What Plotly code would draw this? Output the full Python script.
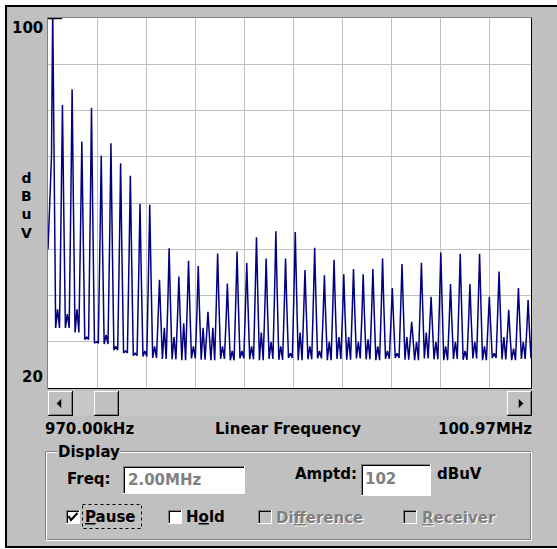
import plotly.graph_objects as go

# ---------------- data ----------------
peak_mhz = [1.93, 3.91, 5.88, 7.86, 9.83, 11.81, 13.79, 15.76, 17.74, 19.71,
            21.69, 23.67, 25.64, 27.62, 29.59, 31.57, 33.55, 35.52, 37.50, 39.47,
            41.45, 43.43, 45.40, 47.38, 49.35, 51.33, 53.31, 55.28, 57.26, 59.23,
            61.21, 63.19, 65.16, 67.14, 69.11, 71.09, 73.07, 75.04, 77.02, 78.99,
            80.97, 82.95, 84.92, 86.90, 88.87, 90.85, 92.83, 94.80, 96.78, 98.75]
peak_dbuv = [102.0, 81.2, 84.6, 73.3, 80.6, 70.2, 72.9, 68.6, 65.9, 59.8,
             59.6, 43.4, 50.2, 44.1, 47.5, 46.4, 36.5, 49.1, 42.6, 49.5,
             47.0, 52.6, 48.0, 53.9, 48.0, 53.7, 45.5, 50.3, 44.4, 47.7,
             44.6, 45.7, 44.6, 45.7, 48.0, 41.6, 46.8, 34.3, 47.1, 39.7,
             49.3, 42.5, 49.0, 42.5, 49.0, 39.7, 45.2, 36.9, 41.6, 39.0]
shoulder_dbuv = [70, 60, 61, 55, 58, 52, 53, 50, 49, 45,
                 45, 36, 39, 36, 38, 37, 32, 39, 35, 39,
                 38, 41, 38, 41.5, 38, 41.5, 37, 39.5, 36, 38,
                 36, 37, 36, 37, 38, 35, 38, 31, 38, 34,
                 39, 35, 39, 35, 39, 34, 37, 32, 35, 33]
floor_dbuv = [33.0, 33.0, 32.0, 30.5, 29.7, 29.5, 28.2, 27.6, 27.0, 26.8,
              26.5, 26.3, 26.2, 26.0, 26.4, 26.1, 26.0, 26.3, 26.0, 26.4,
              26.2, 26.0, 26.3, 26.1, 26.5, 26.0, 26.2, 26.4, 26.0, 26.3,
              26.1, 26.4, 26.2, 26.0, 26.3, 26.5, 26.1, 26.0, 26.4, 26.2,
              26.0, 26.3, 26.1, 26.4, 26.0, 26.5, 26.2, 26.0, 26.3, 26.4]
gap_dbuv = [37, 36, 37, 31, 30, 31.5, 29, 28, 27.5, 28,
            29, 33, 31, 34, 29, 33, 33, 29, 28, 28,
            29, 32, 30, 29, 27.5, 32, 29, 28, 30, 31,
            31, 30, 30.5, 29, 28, 27.5, 31, 30, 32, 30,
            29, 30, 28, 30, 29, 27.5, 31, 28.5, 30, 30]
start_mhz, start_dbuv = 0.97, 50.0
stop_mhz = 99.34

y_ticks = ["100", "20"]
x_labels = ["970.00kHz", "Linear Frequency", "100.97MHz"]

# ---------------- build trace ----------------
xs = [start_mhz, start_mhz + 0.3]
ys = [start_dbuv, 57.0]
for i, f in enumerate(peak_mhz):
    if i > 0:
        xs.append(f - 0.6); ys.append(floor_dbuv[i - 1])
    xs += [f - 0.25, f, f + 0.25, f + 0.6]
    ys += [shoulder_dbuv[i], peak_dbuv[i], shoulder_dbuv[i], floor_dbuv[i]]
    if i < len(peak_mhz) - 1:
        xs.append(f + 0.99); ys.append(gap_dbuv[i])
xs.append(stop_mhz); ys.append(gap_dbuv[-1])

W, H = 557, 549
GRAY = '#c0c0c0'
DARK = '#808080'
FONT = 'DejaVu Sans'


def X(p):
    return p / W


def Y(p):
    return 1 - p / H


fig = go.Figure()
fig.add_trace(go.Scatter(x=xs, y=ys, mode='lines',
                         line=dict(color='#000080', width=1.5),
                         hoverinfo='skip'))

fig.update_layout(
    width=W, height=H, margin=dict(l=0, r=0, t=0, b=0),
    paper_bgcolor=GRAY, plot_bgcolor='white', showlegend=False,
    xaxis=dict(domain=[48 / W, 531 / W], range=[start_mhz, stop_mhz],
               tick0=start_mhz, dtick=10, showticklabels=False, ticks='',
               showgrid=True, gridcolor=GRAY, gridwidth=1, zeroline=False,
               showline=True, linecolor='black', linewidth=1, mirror=True,
               fixedrange=True),
    yaxis=dict(domain=[1 - 388 / H, 1 - 18 / H], range=[20, 100], dtick=10,
               showticklabels=False, ticks='', showgrid=True, gridcolor=GRAY,
               gridwidth=1, zeroline=False, showline=True, linecolor='black',
               linewidth=1, mirror=True, fixedrange=True),
)


def rect(x0, y0, x1, y1, fill, line=None, lw=0, dash=None):
    fig.add_shape(type='rect', xref='paper', yref='paper',
                  x0=X(x0), x1=X(x1), y0=Y(y0), y1=Y(y1),
                  fillcolor=fill,
                  line=dict(color=line or 'rgba(0,0,0,0)', width=lw, dash=dash))


def seg(x0, y0, x1, y1, color, w=1):
    fig.add_shape(type='line', xref='paper', yref='paper',
                  x0=X(x0), x1=X(x1), y0=Y(y0), y1=Y(y1),
                  line=dict(color=color, width=w))


def poly(pts, color):
    path = 'M ' + ' L '.join(f'{X(a)},{Y(b)}' for a, b in pts) + ' Z'
    fig.add_shape(type='path', xref='paper', yref='paper', path=path,
                  fillcolor=color, line=dict(color=color, width=0.5))


def text(s, x, y, size=15, color='black', anchor='left', bold=True, bg=None):
    fig.add_annotation(text=f'<b>{s}</b>' if bold else s, x=X(x), y=Y(y),
                       xref='paper', yref='paper', xanchor=anchor,
                       yanchor='middle', showarrow=False, borderpad=0,
                       bgcolor=bg,
                       font=dict(family=FONT, size=size, color=color))


def raised(x0, y0, x1, y1):
    rect(x0, y0, x1, y1, GRAY)
    seg(x0, y0 + 0.5, x1 - 1, y0 + 0.5, 'white')
    seg(x0 + 0.5, y0, x0 + 0.5, y1 - 1, 'white')
    seg(x0, y1 - 0.5, x1, y1 - 0.5, 'black')
    seg(x1 - 0.5, y0, x1 - 0.5, y1, 'black')
    seg(x0 + 1, y1 - 1.5, x1 - 1, y1 - 1.5, DARK)
    seg(x1 - 1.5, y0 + 1, x1 - 1.5, y1 - 1, DARK)


def sunken(x0, y0, x1, y1, fill='white'):
    rect(x0, y0, x1, y1, fill)
    seg(x0, y0 + 0.5, x1, y0 + 0.5, DARK)
    seg(x0 + 0.5, y0, x0 + 0.5, y1, DARK)
    seg(x0 + 1, y0 + 1.5, x1 - 1, y0 + 1.5, 'black')
    seg(x0 + 1.5, y0 + 1, x0 + 1.5, y1 - 1, 'black')
    seg(x0, y1 - 0.5, x1, y1 - 0.5, 'white')
    seg(x1 - 0.5, y0, x1 - 0.5, y1, 'white')


# window outside (white) and black window frame
rect(0, 0, W, 5, 'white')
rect(0, 0, 5, H, 'white')
rect(0, 548, W, H, 'white')
seg(6, 5, 6, 548, 'black', 2)
seg(5, 6, W, 6, 'black', 2)
seg(5, 547, W, 547, 'black', 2)

# sunken edge around plot
seg(47.5, 17, 47.5, 389, DARK)
seg(47, 17.5, 532, 17.5, DARK)
# marker at top-left of plot
fig.add_shape(type='line', xref='x', yref='y', x0=start_mhz, x1=3.85,
              y0=100, y1=100, line=dict(color='black', width=2.5))

# axis texts
text(y_ticks[0], 44, 28, anchor='right')
text(y_ticks[1], 44, 377, anchor='right')
fig.add_annotation(text='<b>d<br>B<br>u<br>V</b>', x=X(26), y=Y(205),
                   xref='paper', yref='paper', xanchor='center',
                   yanchor='middle', showarrow=False, borderpad=0,
                   font=dict(family=FONT, size=14, color='black'))

# scrollbar
rect(48, 391, 532, 416, '#c8c8c8')
raised(48, 391, 73, 416)
raised(94, 391, 119, 416)
raised(507, 391, 532, 416)
poly([(57, 403.5), (61, 399.5), (61, 407.5)], 'black')
poly([(523, 403.5), (519, 399.5), (519, 407.5)], 'black')

text(x_labels[0], 44, 429)
text(x_labels[1], 288, 429, anchor='center')
text(x_labels[2], 533, 429, anchor='right')

# Display group box
rect(45.5, 451.5, 530.5, 539.5, 'rgba(0,0,0,0)', DARK, 1)
rect(46.5, 452.5, 531.5, 540.5, 'rgba(0,0,0,0)', 'white', 1)
text('Display', 57, 451.5, bg=GRAY)

text('Freq:', 66, 479)
sunken(123, 466, 245, 494)
text('2.00MHz', 127, 480, size=15, color=DARK, bold=True)

text('Amptd:', 294, 474)
sunken(361, 464, 431, 496)
text('102', 364, 479, size=15, color=DARK, bold=True)
text('dBuV', 436, 473.5)

# check boxes
sunken(66, 510, 80, 524)
fig.add_shape(type='path', xref='paper', yref='paper',
              path=f'M {X(68.5)},{Y(516)} L {X(71)},{Y(520)} L {X(77.5)},{Y(513)}',
              line=dict(color='black', width=2))
text('<u>P</u>ause', 84, 517)
rect(82.5, 504.5, 141.5, 528.5, 'rgba(0,0,0,0)', 'black', 1, 'dot')

sunken(168, 510, 182, 524)
text('H<u>o</u>ld', 185, 517)

sunken(258, 510, 272, 524, fill=GRAY)
text('Di<u>f</u>ference', 276, 518.5, color='white')
text('Di<u>f</u>ference', 275, 517.5, color=DARK)

sunken(403, 510, 417, 524, fill=GRAY)
text('<u>R</u>eceiver', 422, 518.5, color='white')
text('<u>R</u>eceiver', 421, 517.5, color=DARK)

fig.write_html('out.html', config={'displayModeBar': False})
